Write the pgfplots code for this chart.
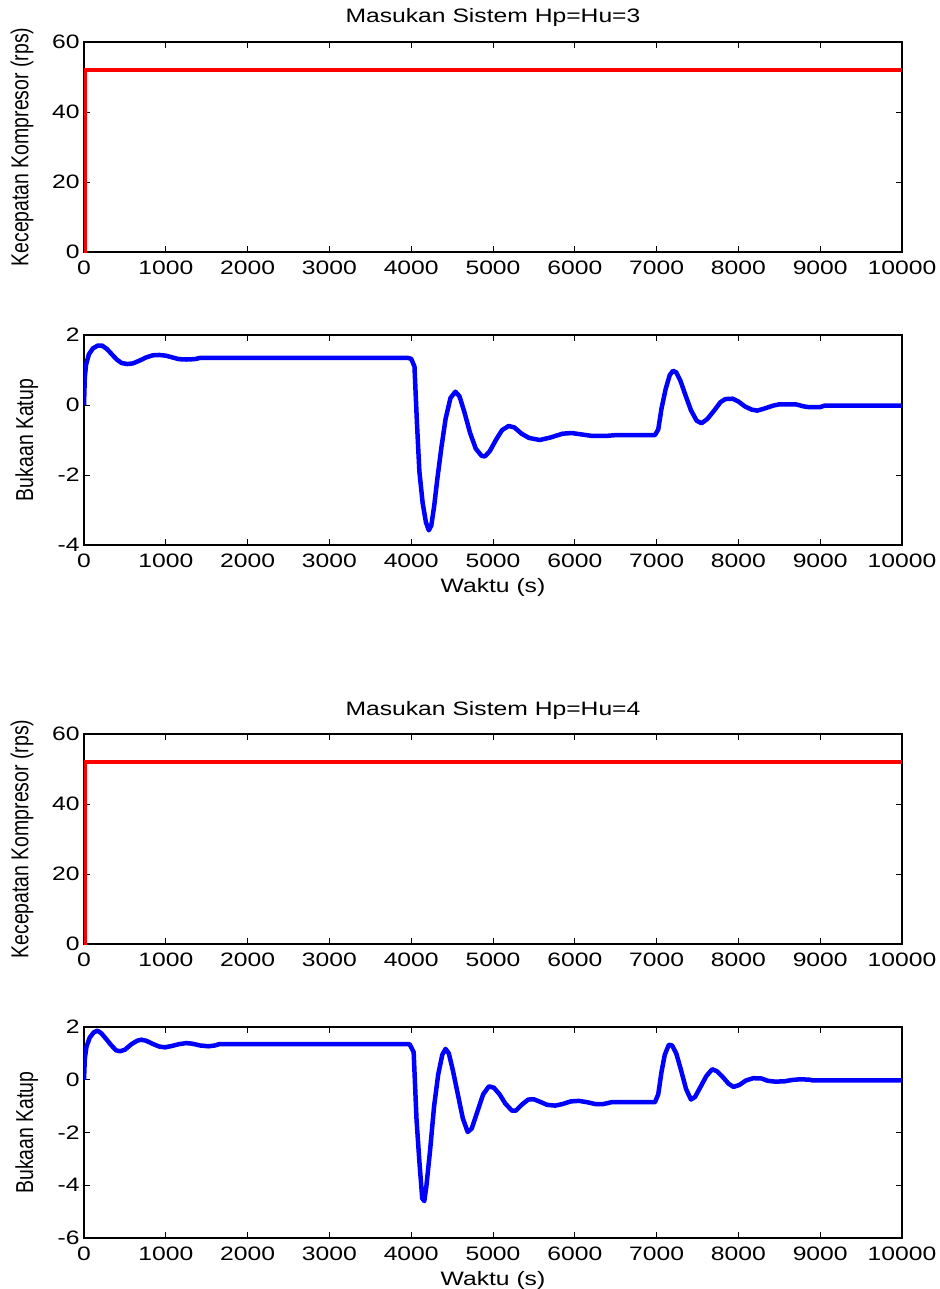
\documentclass[border=0pt]{standalone}
\usepackage{fontspec}
\setmainfont{Liberation Sans}
\usepackage{pgfplots}
\pgfplotsset{compat=1.18}

\newcommand{\ff}{\fontsize{19.5}{21}\selectfont}

\pgfplotsset{
  mat/.style={
    scale only axis,
    width=818bp,
    height=210bp,
    anchor=south west,
    xmin=0, xmax=10000,
    xtick={0,1000,...,10000},
    scaled ticks=false,
    axis line style={line width=1.3bp},
    major tick length=6bp,
    tick style={line width=1bp, black},
    tick label style={font=\ff, xscale=1.27},
    xticklabel style={yshift=-5bp},
    /pgf/number format/1000 sep={},
    /pgf/number format/assume math mode=true,
    title style={at={(axis description cs:0.5,1.086)}, anchor=center, yshift=0pt, font=\ff, xscale=1.27},
    xlabel style={at={(axis description cs:0.5,-0.2)}, anchor=center, font=\ff, xscale=1.27},
    ylabel style={anchor=center, font=\ff, yscale=1.26},
  },
  red line/.style={color=red, line width=3.5bp},
  blue line/.style={color=blue, line width=4.5bp, line join=round},
}

\begin{document}
\begin{tikzpicture}
\useasboundingbox (0,0) rectangle (940bp,-1289bp);

% Hp=Hu=3, input
\begin{axis}[mat, at={(84bp,-252bp)},
  ymin=0, ymax=60, ytick={0,20,40,60},
  title={Masukan Sistem Hp=Hu=3},
  ylabel={Kecepatan Kompresor (rps)},
  ylabel style={at={(axis description cs:-0.0758,0.5)}}]
\addplot[red line] coordinates {(0,0) (18,0) (18,52) (10000,52)};
\end{axis}

% Hp=Hu=3, valve
\begin{axis}[mat, at={(84bp,-545bp)},
  ymin=-4, ymax=2, ytick={-4,-2,0,2},
  xlabel={Waktu (s)},
  ylabel={Bukaan Katup},
  ylabel style={at={(axis description cs:-0.070,0.5)}}]
\addplot[blue line] coordinates {
(0,0) (10,0.8) (25,1.15) (60,1.45) (110,1.62) (170,1.70) (220,1.70)
(280,1.60) (340,1.45) (400,1.30) (460,1.20) (530,1.17) (600,1.19)
(680,1.27) (760,1.36) (840,1.42) (920,1.43) (1000,1.41) (1080,1.36)
(1160,1.31) (1250,1.30) (1350,1.31) (1430,1.35) (1500,1.35)
(3950,1.35) (4000,1.32) (4040,1.10) (4070,-0.50) (4100,-1.90)
(4140,-2.80) (4180,-3.35) (4215,-3.58) (4245,-3.45) (4280,-2.90)
(4320,-2.10) (4370,-1.20) (4420,-0.40) (4480,0.20) (4540,0.38)
(4590,0.25) (4650,-0.20) (4720,-0.80) (4790,-1.25) (4860,-1.45)
(4900,-1.47) (4960,-1.32) (5040,-0.98) (5110,-0.72) (5190,-0.60)
(5260,-0.64) (5350,-0.82) (5440,-0.94) (5570,-1.00) (5700,-0.93)
(5850,-0.82) (5960,-0.80) (6050,-0.83) (6200,-0.88) (6400,-0.88)
(6500,-0.86) (6980,-0.86) (7020,-0.70) (7060,-0.10) (7110,0.45)
(7160,0.85) (7200,0.98) (7240,0.93) (7290,0.70) (7350,0.30)
(7420,-0.15) (7490,-0.45) (7550,-0.52) (7620,-0.40) (7700,-0.17)
(7780,0.08) (7840,0.17) (7930,0.18) (8000,0.10) (8080,-0.04)
(8160,-0.13) (8230,-0.16) (8320,-0.10) (8420,-0.02) (8500,0.02)
(8700,0.02) (8800,-0.04) (8860,-0.06) (9000,-0.06) (9050,-0.02)
(10000,-0.02)
};
\end{axis}

% Hp=Hu=4, input
\begin{axis}[mat, at={(84bp,-944bp)},
  ymin=0, ymax=60, ytick={0,20,40,60},
  title={Masukan Sistem Hp=Hu=4},
  ylabel={Kecepatan Kompresor (rps)},
  ylabel style={at={(axis description cs:-0.0758,0.5)}}]
\addplot[red line] coordinates {(0,0) (18,0) (18,52) (10000,52)};
\end{axis}

% Hp=Hu=4, valve
\begin{axis}[mat, at={(84bp,-1238bp)}, height=211bp,
  ymin=-6, ymax=2, ytick={-6,-4,-2,0,2},
  xlabel={Waktu (s)},
  ylabel={Bukaan Katup},
  ylabel style={at={(axis description cs:-0.070,0.5)}}]
\addplot[blue line] coordinates {
(0,0) (10,0.8) (30,1.25) (70,1.60) (120,1.80) (165,1.86) (210,1.77)
(270,1.55) (330,1.32) (390,1.12) (440,1.08) (500,1.14) (580,1.35)
(650,1.48) (700,1.52) (760,1.48) (840,1.36) (920,1.26) (990,1.23)
(1070,1.28) (1160,1.35) (1250,1.39) (1320,1.37) (1420,1.30)
(1520,1.27) (1600,1.30) (1650,1.35) (1700,1.35) (3980,1.35)
(4030,1.05) (4065,-1.50) (4100,-3.10) (4135,-4.50) (4160,-4.60)
(4185,-4.05) (4230,-2.70) (4280,-1.00) (4330,0.20) (4380,0.95)
(4420,1.17) (4460,1.00) (4510,0.35) (4570,-0.55) (4630,-1.45)
(4690,-1.98) (4740,-1.85) (4810,-1.20) (4880,-0.55) (4950,-0.25)
(5010,-0.30) (5080,-0.55) (5150,-0.90) (5230,-1.17) (5280,-1.17)
(5350,-0.95) (5430,-0.75) (5500,-0.74) (5580,-0.84) (5660,-0.95)
(5760,-0.98) (5850,-0.92) (5950,-0.82) (6050,-0.80) (6150,-0.85)
(6250,-0.92) (6350,-0.92) (6450,-0.85) (6980,-0.85) (7020,-0.55)
(7060,0.30) (7100,0.95) (7150,1.33) (7190,1.30) (7240,1.00)
(7300,0.35) (7360,-0.35) (7420,-0.75) (7470,-0.65) (7540,-0.25)
(7610,0.15) (7680,0.40) (7740,0.32) (7810,0.10) (7880,-0.15)
(7940,-0.27) (8010,-0.20) (8090,-0.03) (8180,0.06) (8280,0.05)
(8360,-0.04) (8450,-0.07) (8560,-0.06) (8650,-0.01) (8760,0.02)
(8880,0.00) (8900,-0.02) (10000,-0.02)
};
\end{axis}
\end{tikzpicture}
\end{document}
